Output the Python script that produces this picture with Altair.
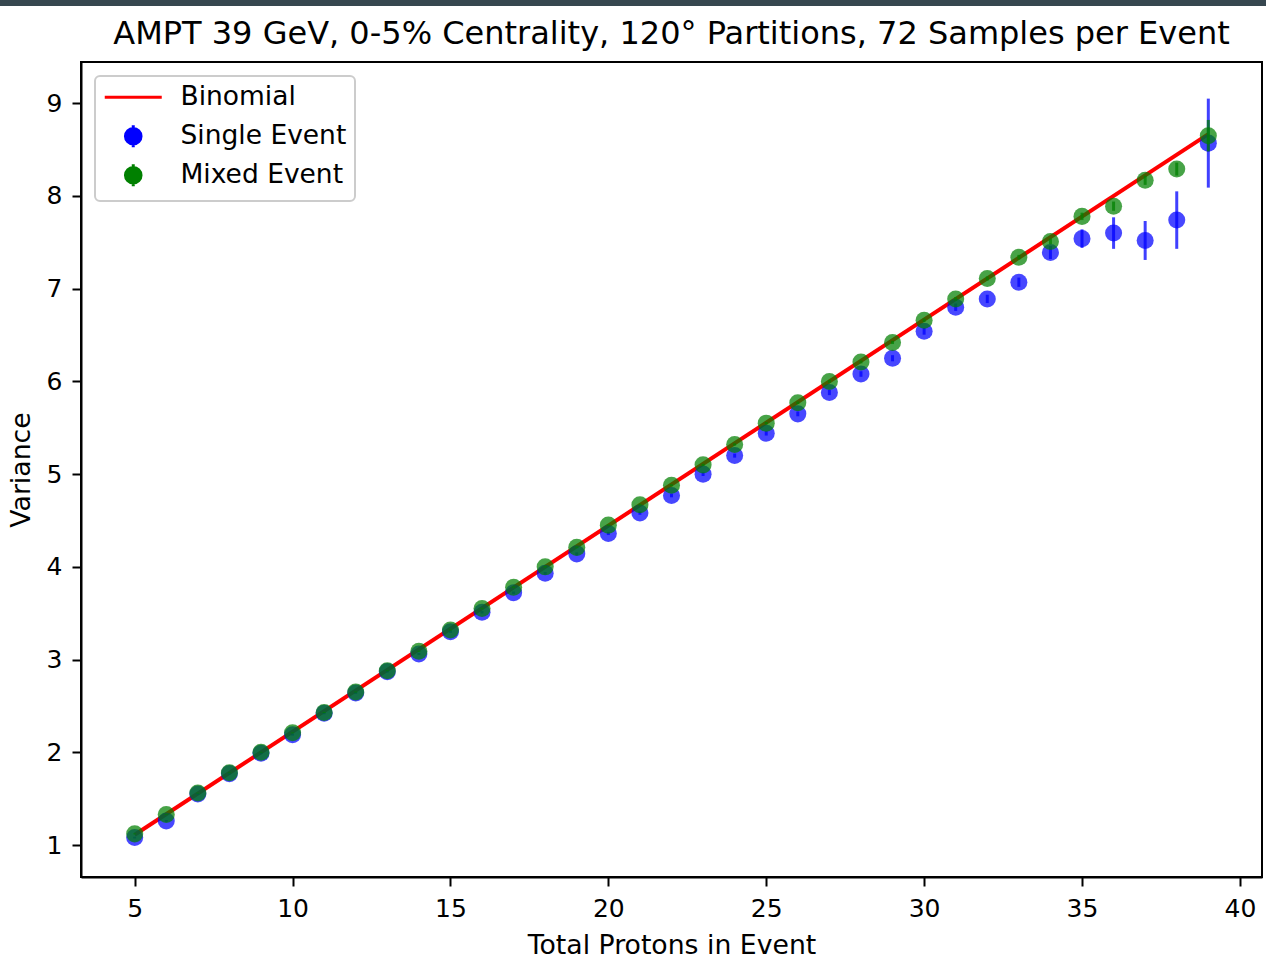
import altair as alt
import pandas as pd

# ---- data ----
n_protons = list(range(5, 40))
single_var = [1.08, 1.26, 1.55, 1.77, 1.99, 2.19, 2.42, 2.64, 2.87, 3.06,
              3.30, 3.51, 3.72, 3.93, 4.14, 4.36, 4.58, 4.77, 5.00, 5.20,
              5.44, 5.65, 5.88, 6.08, 6.25, 6.54, 6.80, 6.89, 7.07, 7.39,
              7.54, 7.60, 7.52, 7.74, 8.57]
single_err = [0.01, 0.01, 0.01, 0.01, 0.01, 0.01, 0.01, 0.01, 0.01, 0.012,
              0.012, 0.013, 0.014, 0.015, 0.016, 0.017, 0.018, 0.02, 0.02, 0.022,
              0.024, 0.026, 0.028, 0.03, 0.033, 0.036, 0.04, 0.045, 0.05, 0.07,
              0.10, 0.17, 0.21, 0.31, 0.48]
mixed_var = [1.12, 1.33, 1.56, 1.78, 2.00, 2.21, 2.43, 2.65, 2.88, 3.09,
             3.32, 3.55, 3.78, 4.00, 4.21, 4.45, 4.67, 4.88, 5.10, 5.32,
             5.55, 5.77, 6.00, 6.21, 6.42, 6.66, 6.89, 7.11, 7.34, 7.51,
             7.78, 7.89, 8.17, 8.29, 8.65]
mixed_err = [0.005, 0.005, 0.005, 0.005, 0.005, 0.005, 0.006, 0.006, 0.006, 0.007,
             0.007, 0.008, 0.008, 0.009, 0.009, 0.01, 0.01, 0.011, 0.012, 0.012,
             0.013, 0.014, 0.015, 0.016, 0.017, 0.018, 0.02, 0.022, 0.025, 0.03,
             0.04, 0.05, 0.05, 0.07, 0.17]
binom_n = [5, 39]
binom_var = [1.111, 8.667]

series_names = ["Binomial", "Single Event", "Mixed Event"]
series_colors = ["red", "blue", "green"]
legend_shapes = [
    "M0,-1.1M0,1.1M-2.85,0L2.85,0",
    "M0,-1.1L0,1.1M0.78,0A0.78,0.78,0,1,1,-0.78,0A0.78,0.78,0,1,1,0.78,0Z",
    "M0,-1.1L0,1.1M0.78,0A0.78,0.78,0,1,1,-0.78,0A0.78,0.78,0,1,1,0.78,0Z",
]

title_text = "AMPT 39 GeV, 0-5% Centrality, 120\u00b0 Partitions, 72 Samples per Event"
x_ticks = [5, 10, 15, 20, 25, 30, 35, 40]
y_ticks = [1, 2, 3, 4, 5, 6, 7, 8, 9]

FONT = "DejaVu Sans"
W, H = 1181, 815

single_df = pd.DataFrame({"n": n_protons, "v": single_var, "e": single_err,
                          "series": "Single Event"})
mixed_df = pd.DataFrame({"n": n_protons, "v": mixed_var, "e": mixed_err,
                         "series": "Mixed Event"})
binom_df = pd.DataFrame({"n": binom_n, "v": binom_var})
points_df = pd.concat([single_df, mixed_df], ignore_index=True)

x_enc = alt.X("n:Q", scale=alt.Scale(domain=[3.3, 40.7], nice=False, zero=False),
              axis=alt.Axis(values=x_ticks, format="d", title="Total Protons in Event",
                            titleX=W / 2, titleY=76, titleBaseline="alphabetic"))
y_enc = alt.Y("v:Q", scale=alt.Scale(domain=[0.655, 9.445], nice=False, zero=False),
              axis=alt.Axis(values=y_ticks, format="d", title="Variance",
                            titleX=-52, titleY=H / 2, titleBaseline="alphabetic",
                            titleAngle=-90))

line = alt.Chart(binom_df).mark_line(color="red", strokeWidth=4).encode(
    x=x_enc, y=y_enc)


def err_layer(df, color):
    base = alt.Chart(df).transform_calculate(
        lo="datum.v - datum.e", hi="datum.v + datum.e")
    rules = base.mark_rule(color=color, strokeWidth=3, opacity=0.75).encode(
        x="n:Q", y="lo:Q", y2="hi:Q")
    dots = alt.Chart(df).mark_circle(color=color, size=290, opacity=0.72).encode(
        x="n:Q", y="v:Q")
    return rules + dots


single_layer = err_layer(single_df, "blue")
mixed_layer = err_layer(mixed_df, "green")

leg = alt.Legend(title=None, orient="none", legendX=14, legendY=14,
                 fillColor="white", strokeColor="#cccccc",
                 cornerRadius=5, padding=8, labelFont=FONT, labelFontSize=26.5,
                 labelColor="black", labelLimit=400, labelOffset=34,
                 symbolOffset=17, symbolSize=400, symbolStrokeWidth=3,
                 rowPadding=4)

legend_layer = alt.Chart(points_df).transform_filter("false").mark_point(
    filled=True, fillOpacity=0.75, strokeOpacity=0.85, strokeWidth=3).encode(
    x="n:Q", y="v:Q",
    fill=alt.Fill("series:N", scale=alt.Scale(domain=series_names, range=series_colors), legend=leg),
    stroke=alt.Stroke("series:N", scale=alt.Scale(domain=series_names, range=series_colors), legend=leg),
    shape=alt.Shape("series:N", scale=alt.Scale(domain=series_names, range=legend_shapes), legend=leg),
)

top_bar = alt.Chart(binom_df).mark_rect(color="#37474f").encode(
    x=alt.value(-81), x2=alt.value(1185), y=alt.value(-62), y2=alt.value(-56))

chart = alt.layer(line, single_layer, mixed_layer, legend_layer, top_bar).properties(
    width=W, height=H,
    autosize=alt.AutoSizeParams(type="none"),
    padding={"left": 81, "top": 62, "right": 4, "bottom": 85},
    title=alt.TitleParams(title_text, font=FONT, fontSize=32, fontWeight="normal",
                          color="black", anchor="middle", baseline="alphabetic",
                          frame="group", offset=0, dy=76),
    background="white",
).configure(font=FONT).configure_view(
    stroke="black", strokeWidth=2
).configure_axis(
    labelFont=FONT, labelFontSize=25, labelColor="black",
    titleFont=FONT, titleFontSize=26.7, titleColor="black", titleFontWeight="normal",
    domainColor="black", domainWidth=2, tickColor="black", tickWidth=2,
    tickSize=9, labelPadding=10, grid=False,
).configure_legend(strokeWidth=2)

chart.save("out.html", embed_options={"renderer": "svg", "actions": False})
